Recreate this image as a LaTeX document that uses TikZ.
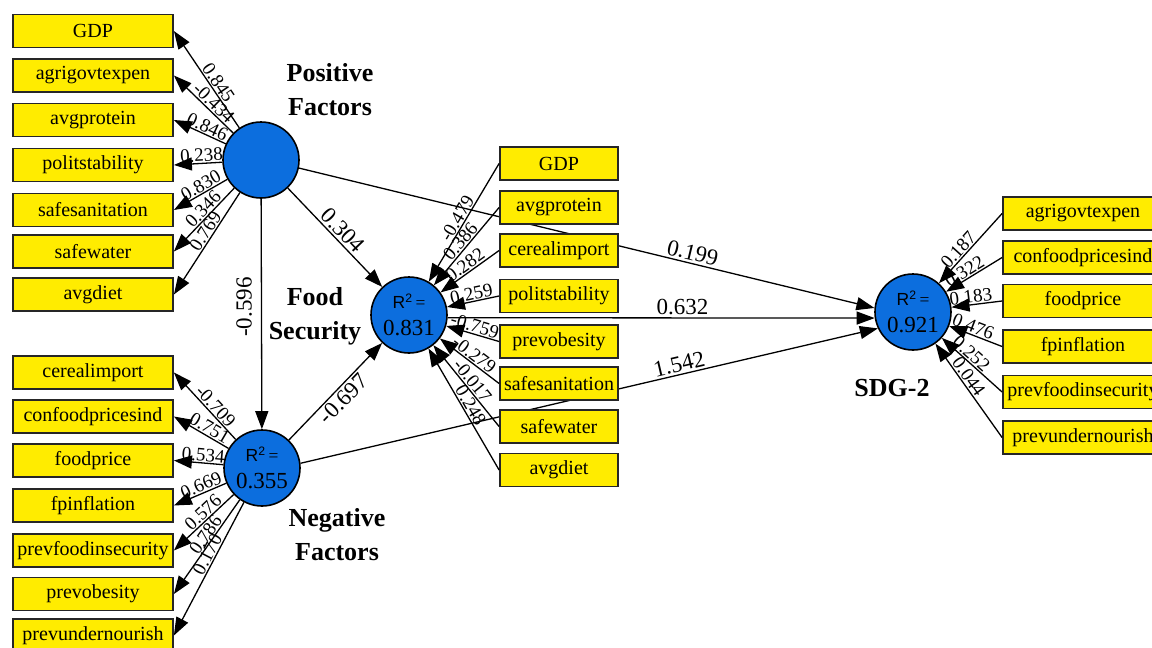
\documentclass[tikz,border=0pt]{standalone}
\usepackage{fontspec}
\setmainfont{Liberation Serif}
\setsansfont{Liberation Sans}
\usetikzlibrary{arrows.meta}
\definecolor{LV}{RGB}{12,110,222}
\definecolor{MV}{RGB}{255,236,0}
\newcommand{\rsquare}[1]{{\sffamily R\textsuperscript{2}}\,=\\{\fontsize{23}{27}\selectfont #1}}
\tikzset{
  latent/.style={circle,draw,line width=1.6pt,fill=LV,minimum size=76pt,inner sep=0pt,align=center,font=\fontsize{17.5}{27}\selectfont},
  indicator/.style={draw=black!85,line width=1.8pt,fill=MV,minimum height=33pt,inner sep=2pt,font=\fontsize{20}{20}\selectfont},
  link/.style={line width=1.3pt,-{Triangle[length=18pt,width=13pt]}},
  loading/.style={font=\fontsize{19}{19}\selectfont,sloped,above,inner sep=1pt},
  coef/.style={font=\fontsize{23}{23}\selectfont,sloped,above,inner sep=2pt},
  lvname/.style={font=\bfseries\fontsize{26}{34}\selectfont,align=center}
}
\begin{document}
\begin{tikzpicture}[x=1pt,y=-1pt]
\useasboundingbox (0,0) rectangle (1152,648);
\clip (0,0) rectangle (1152,648);
\node[latent] (posf) at (261,160) {};
\node[latent] (negf) at (262,468) {\rsquare{0.355}};
\node[latent] (food) at (409,315) {\rsquare{0.831}};
\node[latent] (sdg) at (913,312) {\rsquare{0.921}};
\node[lvname] (posname) at (330,90) {Positive\\Factors};
\node[lvname] (negname) at (337,535) {Negative\\Factors};
\node[lvname] (foodname) at (315,316) {Food\\Security};
\node[lvname] (sdgname) at (892,388) {SDG-2};
\draw[link] (posf) -- node[coef]{0.304} (food);
\draw[link] (posf.-12) -- node[coef,pos=0.68]{0.199} (sdg.174);
\draw[link] (posf) -- node[font=\fontsize{23}{23}\selectfont,rotate=90,above,inner sep=9pt,pos=0.47]{-0.596} (negf);
\draw[link] (negf) -- node[coef,below]{-0.697} (food);
\draw[link] (food.-4) -- node[coef,pos=0.55]{0.632} (sdg.189);
\draw[link] (negf.7) -- node[coef,pos=0.66]{1.542} (sdg.205);
\foreach \nm/\txt/\yy in {pa/GDP/31,pb/agrigovtexpen/75.5,pc/avgprotein/120,pd/politstability/165,pe/safesanitation/210,pf/safewater/251.5,pg/avgdiet/294.5}
  \node[indicator,minimum width=160pt] (\nm) at (93,\yy) {\txt};
\foreach \nm/\txt/\yy in {na/cerealimport/372.5,nb/confoodpricesind/416.5,nc/foodprice/460.5,nd/fpinflation/505.5,ne/prevfoodinsecurity/550.5,nf/prevobesity/594,ng/prevundernourish/635.5}
  \node[indicator,minimum width=160pt] (\nm) at (93,\yy) {\txt};
\foreach \nm/\txt/\yy in {fa/GDP/163.5,fb/avgprotein/207.5,fc/cerealimport/250.5,fd/politstability/296,fe/prevobesity/341.5,ff/safesanitation/383.5,fg/safewater/426.5,fh/avgdiet/470}
  \node[indicator,minimum width=118pt] (\nm) at (559,\yy) {\txt};
\foreach \nm/\txt/\yy in {sa/agrigovtexpen/213.5,sb/confoodpricesind/257.5,sc/foodprice/301,sd/fpinflation/346.5,se/prevfoodinsecurity/392,sf/prevundernourish/437.5}
  \node[indicator,minimum width=160pt] (\nm) at (1083,\yy) {\txt};
\foreach \nm/\w in {pa/0.845,pb/-0.434,pc/0.846,pd/0.238,pe/0.830,pf/0.346,pg/0.769}
  \draw[link] (posf) -- node[loading,pos=0.42]{\w} (\nm.east);
\foreach \nm/\w in {na/-0.709,nb/0.751,nc/0.534,nd/0.669,ne/0.576,nf/0.786,ng/0.170}
  \draw[link] (negf) -- node[loading,pos=0.42]{\w} (\nm.east);
\foreach \nm/\w in {fa/-0.479,fb/0.386,fc/0.282,fd/0.259,fe/-0.759,ff/-0.279,fg/-0.017,fh/0.248}
  \draw[link] (\nm.west) -- node[loading]{\w} (food);
\foreach \nm/\w in {sa/0.187,sb/0.322,sc/0.183,sd/0.476,se/0.252,sf/0.044}
  \draw[link] (\nm.west) -- node[loading,pos=0.6]{\w} (sdg);
\end{tikzpicture}
\end{document}
